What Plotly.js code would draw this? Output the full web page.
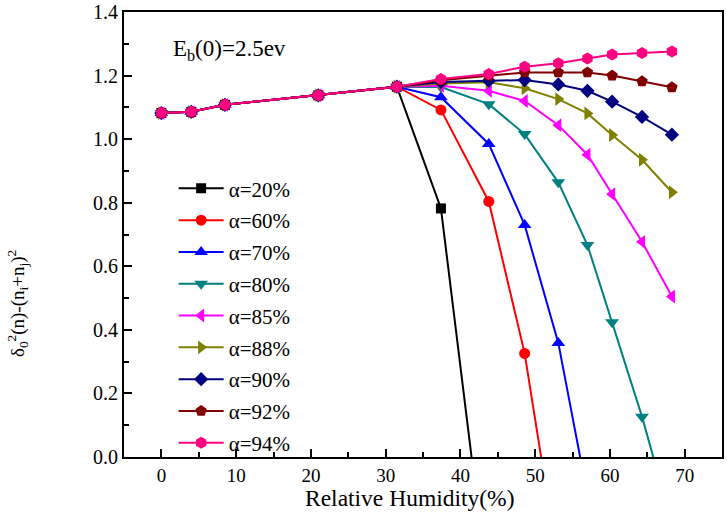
<!DOCTYPE html>
<html>
<head>
<meta charset="utf-8">
<script src="https://cdn.plot.ly/plotly-3.0.1.min.js"></script>
<style>html,body{margin:0;padding:0;background:#fff;}#chart{width:727px;height:517px;}</style>
</head>
<body>
<div id="chart"></div>
<script>
// Relative humidity (%) positions
const humidity = [0, 4, 8.5, 21, 31.5, 37.4, 43.8, 48.6, 53.1, 57.0, 60.3, 64.3, 68.3];
// Shared first points (all series coincide)
const common = [1.082, 1.086, 1.108, 1.138, 1.165];

const seriesNames = ['α=20%', 'α=60%', 'α=70%', 'α=80%', 'α=85%', 'α=88%', 'α=90%', 'α=92%', 'α=94%'];
const a20 = common.concat([0.782, -0.44]);
const a60 = common.concat([1.092, 0.804, 0.326, -0.34]);
const a70 = common.concat([1.132, 0.985, 0.730, 0.359, -0.12]);
const a80 = common.concat([1.164, 1.110, 1.016, 0.864, 0.667, 0.424, 0.127, -0.21]);
const a85 = common.concat([1.168, 1.152, 1.120, 1.044, 0.951, 0.827, 0.677, 0.505]);
const a88 = common.concat([1.175, 1.179, 1.160, 1.126, 1.081, 1.013, 0.935, 0.833]);
const a90 = common.concat([1.180, 1.184, 1.186, 1.172, 1.152, 1.118, 1.070, 1.014]);
const a92 = common.concat([1.185, 1.200, 1.210, 1.210, 1.210, 1.200, 1.182, 1.163]);
const a94 = common.concat([1.189, 1.205, 1.228, 1.239, 1.254, 1.266, 1.271, 1.276]);
const seriesValues = [a20, a60, a70, a80, a85, a88, a90, a92, a94];

const colors = ['#000000', '#FF0000', '#0000FF', '#008080', '#FF00FF', '#808000', '#000080', '#800000', '#FF0080'];
const symbols = ['square', 'circle', 'triangle-up', 'triangle-down', 'triangle-left', 'triangle-right', 'diamond', 'pentagon', 'hexagon'];
const sizes = [10, 11, 12, 12, 12, 12, 11, 12, 12];

const serif = 'Liberation Serif';

const traces = seriesValues.map((vals, i) => ({
  type: 'scatter',
  mode: 'lines+markers',
  name: seriesNames[i],
  legendgroup: 'g' + i,
  x: humidity.slice(0, vals.length),
  y: vals,
  line: {color: colors[i], width: 2},
  marker: {symbol: symbols[i], size: sizes[i], color: colors[i]},
  cliponaxis: true
}));

const layout = {
  width: 727, height: 517,
  margin: {l: 124, r: 5, t: 12, b: 60},
  paper_bgcolor: '#ffffff', plot_bgcolor: '#ffffff',
  font: {family: serif, color: '#000'},
  showlegend: true,
  legend: {
    x: 0.083, y: 0.649, xanchor: 'left', yanchor: 'top',
    bgcolor: 'rgba(0,0,0,0)', borderwidth: 0,
    font: {family: serif, size: 21, color: '#000'},
    tracegroupgap: 1.5, traceorder: 'grouped', itemwidth: 45
  },
  xaxis: {
    range: [-5, 75], tick0: 0, dtick: 10,
    ticks: 'inside', ticklen: 8, tickwidth: 2, tickcolor: '#000',
    minor: {dtick: 5, ticks: 'inside', ticklen: 5, tickwidth: 2, tickcolor: '#000'},
    showline: true, linewidth: 2, linecolor: '#000', mirror: true,
    showgrid: false, zeroline: false,
    tickfont: {family: serif, size: 19, color: '#000'}
  },
  yaxis: {
    range: [0, 1.4], tick0: 0, dtick: 0.2, tickformat: '.1f',
    ticks: 'inside', ticklen: 8, tickwidth: 2, tickcolor: '#000',
    minor: {dtick: 0.1, ticks: 'inside', ticklen: 5, tickwidth: 2, tickcolor: '#000'},
    showline: true, linewidth: 2, linecolor: '#000', mirror: true,
    showgrid: false, zeroline: false,
    tickfont: {family: serif, size: 20, color: '#000'}
  },
  annotations: [
    {
      xref: 'paper', yref: 'paper', x: 0.078, y: 0.915, xanchor: 'left', yanchor: 'middle',
      text: 'E<sub>b</sub>(0)=2.5ev', showarrow: false,
      font: {family: serif, size: 23, color: '#000'}
    },
    {
      xref: 'paper', yref: 'paper', x: 0.479, y: -0.092, xanchor: 'center', yanchor: 'middle',
      text: 'Relative Humidity(%)', showarrow: false,
      font: {family: serif, size: 23.5, color: '#000'}
    },
    {
      xref: 'paper', yref: 'paper', x: -0.177, y: 0.344, xanchor: 'center', yanchor: 'middle',
      textangle: -90,
      text: 'δ<sub>0</sub><sup>2</sup>(n)-(n<sub>i</sub>+n<sub>j</sub>)<sup>2</sup>', showarrow: false,
      font: {family: serif, size: 19, color: '#000'}
    }
  ]
};

Plotly.newPlot('chart', traces, layout, {displayModeBar: false, staticPlot: true});
</script>
</body>
</html>
